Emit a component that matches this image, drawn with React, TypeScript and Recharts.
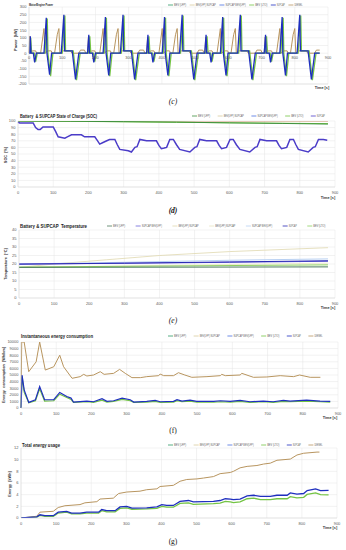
import React from "react";
import { LineChart, Line, XAxis, YAxis, CartesianGrid } from "recharts";

const timeTicks = [0, 100, 200, 300, 400, 500, 600, 700, 800, 900];
const powerTicks = [-200, -150, -100, -50, 0, 50, 100, 150, 200, 250, 300];
const socTicks = [0, 10, 20, 30, 40, 50, 60, 70, 80, 90, 100];
const tempTicks = [0, 5, 10, 15, 20, 25, 30, 35, 40];
const consumptionTicks = [0, 1000, 2000, 3000, 4000, 5000, 6000, 7000, 8000, 9000, 10000];
const energyTicks = [0, 2, 4, 6, 8, 10, 12];

const legendSix = ["BEV (LFP)", "BEV(LFP) SUPCAP", "SUPCAP BEV(LFP)", "BEV (LTO)", "SUPCAP", "DIESEL"];
const legendSoc = ["BEV (LFP)", "BEV(LFP) SUPCAP", "SUPCAP BEV(LFP)", "BEV (LTO)", "SUPCAP"];
const legendTemp = ["BEV (LFP)", "SUPCAP BEV(LFP)", "BEV(LFP) SUPCAP", "BEV(LFP) SUPCAP", "SUPCAP BEV(LFP)", "SUPCAP", "BEV (LTO)"];

// (c) motor / engine power [kW] vs time [s]
const powerSupcap = [
  [0, 0], [2, 0], [4, 110], [6, 0], [13, 0], [17, -60], [22, 0], [45, 0], [52, 230], [54, 0], [62, -140], [68, 0], [97, 0], [105, 250], [107, 15], [130, 15], [140, -170], [150, 0],
  [176, 0], [180, 120], [182, 0], [191, 0], [195, -60], [200, 0], [223, 0], [230, 235], [232, 0], [240, -145], [246, 0], [275, 0], [283, 250], [285, 15], [308, 15], [318, -170], [328, 0],
  [354, 0], [358, 120], [360, 0], [369, 0], [373, -60], [378, 0], [401, 0], [408, 235], [410, 0], [418, -145], [424, 0], [453, 0], [461, 250], [463, 15], [486, 15], [496, -170], [506, 0],
  [529, 0], [533, 120], [535, 0], [544, 0], [548, -60], [553, 0], [576, 0], [583, 235], [585, 0], [593, -145], [599, 0], [628, 0], [636, 250], [638, 15], [661, 15], [671, -170], [681, 0],
  [708, 0], [712, 120], [714, 0], [723, 0], [727, -60], [732, 0], [755, 0], [762, 235], [764, 0], [772, -145], [778, 0], [807, 0], [815, 250], [817, 15], [840, 15], [850, -170], [860, 0], [875, 0],
];
const powerBevLto = [
  [0, 0], [3, 0], [5, 100], [8, 0], [16, 0], [20, -55], [25, 0], [48, 0], [55, 225], [57, 0], [65, -150], [72, 0], [100, 0], [108, 245], [110, 15], [133, 15], [143, -175], [154, 0],
  [179, 0], [183, 110], [186, 0], [194, 0], [198, -55], [203, 0], [226, 0], [233, 230], [235, 0], [243, -150], [250, 0], [278, 0], [286, 245], [288, 15], [311, 15], [321, -175], [332, 0],
  [357, 0], [361, 110], [364, 0], [372, 0], [376, -55], [381, 0], [404, 0], [411, 230], [413, 0], [421, -150], [428, 0], [456, 0], [464, 245], [466, 15], [489, 15], [499, -175], [510, 0],
  [532, 0], [536, 110], [539, 0], [547, 0], [551, -55], [556, 0], [579, 0], [586, 230], [588, 0], [596, -150], [603, 0], [631, 0], [639, 245], [641, 15], [664, 15], [674, -175], [685, 0],
  [711, 0], [715, 110], [718, 0], [726, 0], [730, -55], [735, 0], [758, 0], [765, 230], [767, 0], [775, -150], [782, 0], [810, 0], [818, 245], [820, 15], [843, 15], [853, -175], [864, 0], [875, 0],
];
const powerDiesel = [
  [0, 0], [2, 110], [4, 0], [10, 15], [20, 15], [23, 0], [35, 0], [45, 160], [48, 0], [57, 15], [67, 15], [70, 0], [77, 0], [85, 120], [90, 160], [93, 0], [100, 15], [125, 15], [129, 0], [150, 0], [155, 20], [167, 20], [171, 0],
  [176, 0], [179, 105], [182, 0], [188, 15], [198, 15], [201, 0], [213, 0], [223, 160], [226, 0], [235, 15], [245, 15], [248, 0], [255, 0], [263, 120], [268, 160], [271, 0], [278, 15], [303, 15], [307, 0], [328, 0], [333, 20], [345, 20], [349, 0],
  [354, 0], [357, 105], [360, 0], [366, 15], [376, 15], [379, 0], [391, 0], [401, 160], [404, 0], [413, 15], [423, 15], [426, 0], [433, 0], [441, 120], [446, 160], [449, 0], [456, 15], [481, 15], [485, 0], [506, 0], [511, 20], [523, 20], [527, 0],
  [529, 0], [532, 105], [535, 0], [541, 15], [551, 15], [554, 0], [566, 0], [576, 160], [579, 0], [588, 15], [598, 15], [601, 0], [608, 0], [616, 120], [621, 160], [624, 0], [631, 15], [656, 15], [660, 0], [681, 0], [686, 20], [698, 20], [702, 0],
  [708, 0], [711, 105], [714, 0], [720, 15], [730, 15], [733, 0], [745, 0], [755, 160], [758, 0], [767, 15], [777, 15], [780, 0], [787, 0], [795, 120], [800, 160], [803, 0], [810, 15], [835, 15], [839, 0], [860, 0], [865, 20], [875, 20],
];

// (d) state of charge [%]
const socSupcap = [
  [0, 98], [5, 97], [43, 97], [50, 90], [57, 87], [63, 87], [71, 91], [100, 91], [107, 84], [114, 76], [133, 74], [140, 76], [152, 79], [180, 79], [189, 76], [218, 76], [226, 70], [232, 65], [240, 67], [252, 70], [260, 72], [275, 72], [282, 64], [289, 57], [313, 55], [322, 53], [332, 60], [338, 61], [346, 72], [365, 70], [393, 70], [400, 63], [407, 58], [415, 59], [422, 60], [431, 72], [441, 72], [450, 64], [459, 57], [488, 53], [502, 60], [508, 61], [516, 72], [535, 70], [564, 70], [571, 63], [578, 58], [592, 60], [602, 72], [611, 72], [620, 64], [630, 57], [658, 53], [673, 60], [679, 61], [687, 72], [706, 70], [734, 70], [741, 63], [748, 58], [763, 60], [772, 72], [782, 72], [789, 64], [796, 57], [824, 53], [838, 60], [844, 61], [853, 72], [867, 72], [878, 71],
];
const socBevLfp = [[0, 100], [150, 99.6], [300, 99], [450, 98.3], [600, 97.2], [750, 96.3], [880, 95.4]];
const socBevLto = [[0, 100], [150, 99.5], [300, 98.8], [450, 98], [600, 97.3], [750, 96.6], [880, 96]];
const socBevLfpSupcap = [[0, 100], [880, 99.7]];

// (e) temperature [°C]
const tempBevLfp = [[0, 18], [880, 18.3]];
const tempSupcapBevLfp = [[0, 20], [300, 20.4], [600, 21], [880, 21.6]];
const tempBevLfpSupcapA = [[0, 18], [100, 20], [250, 22.5], [400, 25], [600, 27.3], [880, 29.6]];
const tempBevLfpSupcapB = [[0, 18], [880, 20.5]];
const tempSupcapBevLfpB = [[0, 20], [300, 21], [600, 22.2], [880, 23]];
const tempSupcap = [[0, 19.9], [300, 20.5], [600, 21.2], [880, 21.9]];
const tempBevLto = [[0, 18.2], [880, 19.5]];

// (f) instantaneous energy consumption [Wh/km]
const consDiesel = [
  [0, 0], [2, 10000], [9, 10000], [22, 5500], [43, 7000], [53, 10000], [69, 5750], [93, 6250], [110, 8000], [121, 6250], [145, 4500], [168, 4750], [178, 5100], [187, 4850], [206, 5000], [225, 5500], [236, 5100], [263, 5250], [280, 5850], [296, 5250], [315, 4600], [339, 4600], [357, 4750], [391, 4900], [395, 5150], [405, 4900], [433, 4900], [447, 5350], [465, 5000], [485, 4650], [528, 4750], [566, 4900], [570, 5100], [580, 4900], [622, 5000], [627, 5250], [660, 4650], [698, 4700], [736, 4900], [774, 4750], [791, 5000], [821, 4650], [850, 4650],
];
const consSupcap = [
  [0, 0], [3, 5000], [9, 2750], [22, 850], [41, 1250], [53, 3250], [67, 1250], [93, 1250], [110, 2350], [130, 1750], [142, 1500], [149, 900], [187, 1050], [206, 950], [230, 1400], [244, 1000], [263, 1100], [287, 1500], [310, 1250], [320, 900], [357, 1000], [381, 1150], [395, 950], [433, 1000], [443, 1250], [457, 1050], [480, 1200], [499, 1000], [547, 1000], [566, 1100], [594, 1000], [622, 1150], [650, 950], [688, 1050], [716, 950], [745, 1150], [764, 1050], [811, 1200], [849, 1050], [878, 1000],
];
const consBevLto = [
  [0, 0], [3, 4800], [9, 2400], [22, 800], [41, 1100], [53, 2900], [67, 1050], [93, 1100], [110, 2100], [130, 1600], [142, 1300], [149, 850], [187, 950], [206, 850], [230, 1200], [244, 900], [263, 1000], [287, 1300], [310, 1100], [320, 850], [357, 900], [381, 1000], [395, 850], [433, 900], [443, 1100], [457, 950], [480, 1050], [499, 900], [547, 900], [566, 950], [594, 900], [622, 1000], [650, 850], [688, 950], [716, 850], [745, 1000], [764, 950], [811, 1050], [849, 950], [878, 900],
];

// (g) total energy usage [kWh]
const energyDiesel = [
  [0, 0], [26, 0.17], [45, 0.3], [54, 1.0], [92, 1.15], [106, 1.8], [125, 2.1], [168, 2.3], [182, 2.6], [216, 2.8], [225, 3.25], [263, 3.4], [278, 4.2], [301, 4.45], [339, 4.6], [358, 4.85], [387, 5.0], [396, 5.4], [434, 5.6], [453, 6.3], [472, 6.6], [501, 6.7], [520, 6.85], [548, 7.1], [567, 7.6], [596, 7.8], [605, 8.0], [624, 8.6], [644, 8.85], [672, 9.0], [691, 9.25], [710, 9.4], [729, 9.9], [767, 10.1], [786, 10.8], [805, 11.1], [843, 11.3], [850, 11.3],
];
const energySupcap = [
  [0, 0], [45, 0.2], [54, 0.55], [68, 0.4], [92, 0.4], [106, 1.0], [130, 1.15], [144, 0.85], [168, 0.85], [187, 1.0], [221, 1.0], [230, 1.45], [244, 1.25], [268, 1.25], [282, 1.9], [301, 2.0], [316, 1.7], [358, 1.75], [387, 1.9], [401, 2.3], [415, 2.15], [434, 2.15], [453, 2.85], [477, 3.0], [491, 2.75], [548, 2.85], [567, 3.0], [582, 3.3], [596, 3.25], [605, 3.15], [624, 3.25], [644, 3.8], [663, 3.9], [682, 3.7], [710, 3.7], [729, 3.9], [758, 3.9], [767, 4.3], [786, 4.1], [805, 4.2], [815, 4.7], [839, 5.0], [853, 4.7], [876, 4.75],
];
const energyBevLto = [
  [0, 0], [45, 0.15], [54, 0.45], [68, 0.3], [92, 0.3], [106, 0.85], [130, 1.0], [144, 0.7], [168, 0.7], [187, 0.85], [221, 0.85], [230, 1.25], [244, 1.05], [268, 1.05], [282, 1.65], [301, 1.75], [316, 1.5], [358, 1.55], [387, 1.65], [401, 2.0], [415, 1.85], [434, 1.85], [453, 2.5], [477, 2.6], [491, 2.35], [548, 2.45], [567, 2.55], [582, 2.85], [596, 2.75], [605, 2.65], [624, 2.75], [644, 3.3], [663, 3.4], [682, 3.15], [710, 3.15], [729, 3.3], [758, 3.3], [767, 3.65], [786, 3.45], [805, 3.55], [815, 4.05], [839, 4.3], [853, 4.0], [876, 3.95],
];

const C = {
  bevLfp: "#2e9a66",
  bevLfpSupcap: "#d8cc9e",
  supcapBevLfp: "#4a6ee0",
  bevLto: "#74c444",
  supcap: "#1f2fbf",
  diesel: "#b8955f",
};

const font = "'Liberation Sans', Arial, sans-serif";
const tickStyle = { fontSize: 4, fill: "#595959", fontFamily: font };
const rows = (d: number[][]) => d.map(([t, v]) => ({ t, v }));

type Series = { data: number[][]; color: string; width?: number };

function Panel(props: {
  top: number; height: number; plotTop: number; left: number; right: number; xHeight?: number;
  yDomain: number[]; yTicks: number[]; series: Series[]; zeroY?: number;
}) {
  const { top, height, plotTop, left, right, xHeight = 12, yDomain, yTicks, series, zeroY } = props;
  const zeroTick = (p: any) => (
    <text x={p.x} y={zeroY! + 5.5} textAnchor="middle" fontSize={4} fill="#595959" fontFamily={font}>
      {p.payload.value}
    </text>
  );
  return (
    <div style={{ position: "absolute", left: 0, top }}>
      <LineChart width={346} height={height} margin={{ top: plotTop, right: 346 - right, bottom: 0, left: 0 }}>
        <CartesianGrid stroke="#e4e4e4" strokeWidth={0.5} />
        <XAxis
          type="number" dataKey="t" domain={[0, 900]} ticks={timeTicks} interval={0} height={xHeight}
          axisLine={{ stroke: "#d4d4d4", strokeWidth: 0.5 }} tickLine={false} tickSize={2} tickMargin={2}
          tick={zeroY !== undefined ? zeroTick : tickStyle}
        />
        <YAxis
          type="number" domain={yDomain} ticks={yTicks} interval={0} width={left} allowDataOverflow
          axisLine={{ stroke: "#d4d4d4", strokeWidth: 0.5 }} tickLine={false} tickSize={1} tickMargin={1.5}
          tick={tickStyle}
        />
        {series.map((s, i) => (
          <Line key={i} data={rows(s.data)} dataKey="v" type="linear" stroke={s.color} strokeWidth={s.width ?? 1}
            dot={false} activeDot={false} isAnimationActive={false} />
        ))}
      </LineChart>
    </div>
  );
}

function Legend({ x, y, names, colors, gap }: { x: number; y: number; names: string[]; colors: string[]; gap: number }) {
  let cx = x;
  return (
    <g>
      {names.map((n, i) => {
        const sx = cx;
        const w = n.length * 1.35;
        cx += 6 + w + gap;
        return (
          <g key={i}>
            <line x1={sx} x2={sx + 5} y1={y} y2={y} stroke={colors[i]} strokeWidth={0.8} />
            <text x={sx + 6} y={y + 1.2} fontSize={3.4} fill="#595959" fontFamily={font}
              textLength={w} lengthAdjust="spacingAndGlyphs">{n}</text>
          </g>
        );
      })}
    </g>
  );
}

function Title({ x, y, w, size, s }: { x: number; y: number; w: number; size: number; s: string }) {
  return (
    <text x={x} y={y} fontSize={size} fontWeight={700} fill="#222" fontFamily={font}
      textLength={w} lengthAdjust="spacingAndGlyphs" style={{ whiteSpace: "pre" }}>{s}</text>
  );
}

function Overlay() {
  const axisName = (x: number, y: number, s: string) => (
    <text x={x} y={y} transform={`rotate(-90 ${x} ${y})`} textAnchor="middle" fontSize={3.8} fontWeight={700}
      fill="#333" fontFamily={font} style={{ whiteSpace: "pre" }}>{s}</text>
  );
  const timeLabel = (x: number, y: number) => (
    <text x={x} y={y} textAnchor="middle" fontSize={3.8} fontWeight={700} fill="#333" fontFamily={font}>Time [s]</text>
  );
  const panelLabel = (y: number, s: string, italic: boolean, bold = false) => (
    <text x={173} y={y} textAnchor="middle" fontSize={7.5} fontStyle={italic ? "italic" : "normal"}
      fontWeight={bold ? 700 : 400} fill="#111" fontFamily="'Liberation Serif', serif">{s}</text>
  );
  const six = [C.bevLfp, C.bevLfpSupcap, C.supcapBevLfp, C.bevLto, C.supcap, C.diesel];
  return (
    <svg width={346} height={550} style={{ position: "absolute", left: 0, top: 0, pointerEvents: "none" }}>
      <Title x={29} y={6.3} w={24} size={4} s="Motor/Engine Power" />
      <Legend x={168} y={5} names={legendSix} colors={six} gap={3.5} />
      {axisName(17, 40, "Power  [kW]")}
      {timeLabel(322, 88.5)}
      {panelLabel(104, "(c)", true)}

      <Title x={20} y={117.8} w={77} size={5} s="Battery  & SUPCAP State of Charge (SOC)" />
      <Legend x={192} y={116} names={legendSoc} gap={7.5}
        colors={["#3f8f3f", C.bevLfpSupcap, C.supcapBevLfp, C.bevLto, "#4b3cc8"]} />
      {axisName(7, 155, "SOC  [%]")}
      {timeLabel(328, 198.5)}
      {panelLabel(213, "(d)", true, true)}

      <Title x={20} y={227.8} w={67} size={5} s="Battery & SUPCAP  Temperature" />
      <Legend x={107} y={226} names={legendTemp} gap={10.5}
        colors={["#4c7a5c", "#6a62d8", "#e0d8ae", "#e8e4c2", "#b8d0f2", "#2a2ab4", "#8ed060"]} />
      {axisName(7, 264, "Temperature  [°C]")}
      {timeLabel(328, 308.5)}
      {panelLabel(323, "(e)", true)}

      <Title x={21} y={337.8} w={72} size={5} s="Instantaneous energy consumption" />
      <Legend x={168} y={336} names={legendSix} colors={six} gap={7.5} />
      {axisName(5, 375, "Energy  consumption  [Wh/km]")}
      {timeLabel(330, 418.5)}
      {panelLabel(433, "(f)", false)}

      <Title x={22} y={446.8} w={38} size={5} s="Total energy usage" />
      <Legend x={168} y={445} names={legendSix} colors={six} gap={7.5} />
      {axisName(11, 484, "Energy  [kWh]")}
      {timeLabel(330, 528.5)}
      {panelLabel(544, "(g)", false)}
    </svg>
  );
}

export default function App() {
  return (
    <div style={{ position: "relative", width: 346, height: 550, background: "#fff", overflow: "hidden" }}>
      <style>{"body{margin:0}"}</style>
      <Panel top={0} height={92} plotTop={7} left={29} right={328} xHeight={8} yDomain={[-200, 300]} yTicks={powerTicks}
        zeroY={7 + 77 * 0.6}
        series={[
          { data: powerDiesel, color: C.diesel, width: 1 },
          { data: powerBevLto, color: C.bevLto, width: 1.3 },
          { data: powerSupcap, color: C.supcap, width: 1.3 },
        ]} />
      <Panel top={110} height={89} plotTop={11} left={18} right={335} yDomain={[0, 100]} yTicks={socTicks}
        series={[
          { data: socBevLfpSupcap, color: "#d09a78", width: 0.8 },
          { data: socBevLto, color: "#7ccf45", width: 1 },
          { data: socBevLfp, color: "#3f8f3f", width: 1 },
          { data: socSupcap, color: "#4b3cc8", width: 1.5 },
        ]} />
      <Panel top={220} height={90} plotTop={10} left={19} right={335} yDomain={[0, 40]} yTicks={tempTicks}
        series={[
          { data: tempBevLfpSupcapA, color: "#e0d8ae", width: 0.8 },
          { data: tempBevLfpSupcapB, color: "#e8e4c2", width: 0.8 },
          { data: tempSupcapBevLfpB, color: "#b8d0f2", width: 1 },
          { data: tempBevLto, color: "#8ed060", width: 1 },
          { data: tempBevLfp, color: "#4c7a5c", width: 1 },
          { data: tempSupcapBevLfp, color: "#6a62d8", width: 1 },
          { data: tempSupcap, color: "#2a2ab4", width: 1 },
        ]} />
      <Panel top={330} height={90} plotTop={12} left={21} right={338} yDomain={[0, 10000]} yTicks={consumptionTicks}
        series={[
          { data: consDiesel, color: C.diesel, width: 1 },
          { data: consBevLto, color: C.bevLto, width: 1.2 },
          { data: consSupcap, color: C.supcap, width: 1.2 },
        ]} />
      <Panel top={440} height={90} plotTop={8} left={21} right={337} yDomain={[0, 12]} yTicks={energyTicks}
        series={[
          { data: energyDiesel, color: C.diesel, width: 1 },
          { data: energyBevLto, color: C.bevLto, width: 1.3 },
          { data: energySupcap, color: C.supcap, width: 1.3 },
        ]} />
      <Overlay />
    </div>
  );
}
